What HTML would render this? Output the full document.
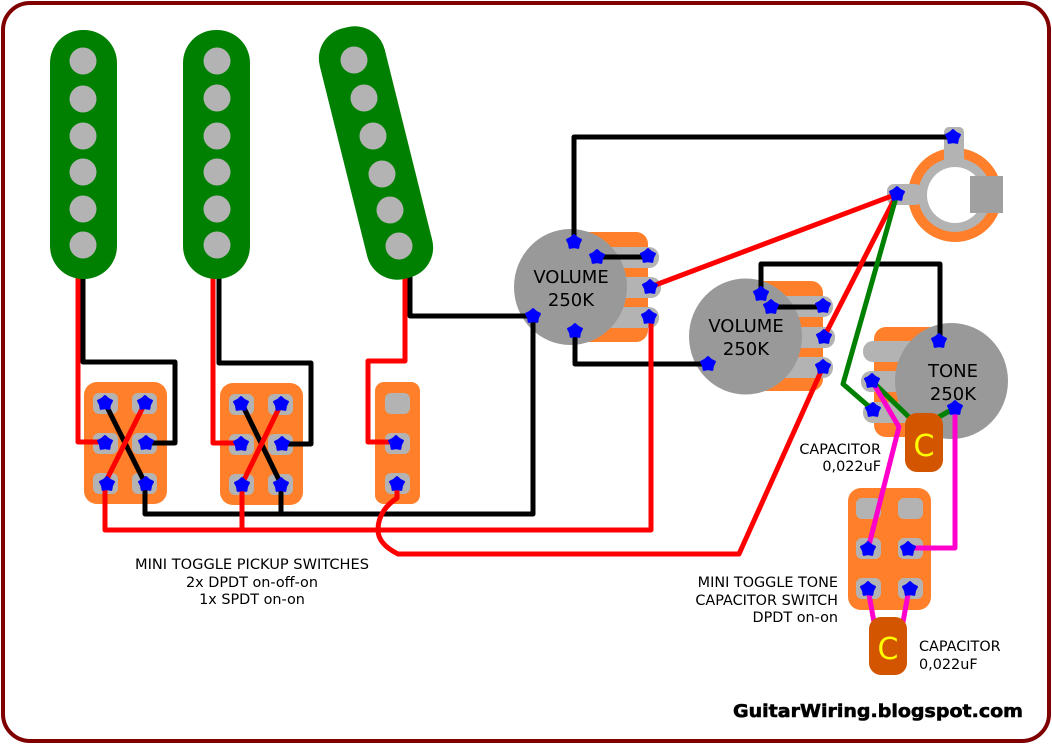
<!DOCTYPE html>
<html><head><meta charset="utf-8"><style>
html,body{margin:0;padding:0;background:#fff}
svg{display:block}
text{font-family:"DejaVu Sans",sans-serif;fill:#000}
.w{fill:none;stroke-width:5;stroke-linejoin:round;stroke-linecap:round}
.r{stroke:#f00}.k{stroke:#000}.g{stroke:#008000}.p{stroke:#f0c}
.or{fill:#ff7f2a}.pad{fill:#b3b3b3}.pot{fill:#999}.cap{fill:#d45500}
.s{font-size:14.4px}
.b{font-size:18px}
.c{font-size:30px;fill:#ff0}
</style></head><body>
<svg width="1052" height="744" viewBox="0 0 1052 744" xmlns="http://www.w3.org/2000/svg">
<defs>
<path id="st" d="M0,-7 L3.1,-4.2 L7,-2.2 L5,1.6 L4.3,5.9 L0,5.2 L-4.3,5.9 L-5,1.6 L-7,-2.2 L-3.1,-4.2Z" fill="#00f" stroke="#00f" stroke-width="2" stroke-linejoin="round"/>
</defs>
<rect x="3" y="3" width="1046" height="738" rx="27" fill="#fff" stroke="#800000" stroke-width="4"/>

<!-- switches -->
<rect class="or" x="84" y="382" width="83" height="122" rx="13"/>
<rect class="or" x="220" y="383" width="83" height="122" rx="13"/>
<rect class="or" x="375" y="382" width="45" height="122" rx="9"/>
<rect class="or" x="848" y="488" width="83" height="122" rx="13"/>
<g class="pad">
<rect x="93" y="393" width="25" height="21" rx="6"/><rect x="132" y="393" width="25" height="21" rx="6"/>
<rect x="93" y="433" width="25" height="21" rx="6"/><rect x="132" y="433" width="25" height="21" rx="6"/>
<rect x="93" y="473" width="25" height="21" rx="6"/><rect x="132" y="473" width="25" height="21" rx="6"/>
<rect x="229" y="394" width="25" height="21" rx="6"/><rect x="268" y="394" width="25" height="21" rx="6"/>
<rect x="229" y="434" width="25" height="21" rx="6"/><rect x="268" y="434" width="25" height="21" rx="6"/>
<rect x="229" y="474" width="25" height="21" rx="6"/><rect x="268" y="474" width="25" height="21" rx="6"/>
<rect x="385" y="393" width="25" height="21" rx="6"/><rect x="385" y="433" width="25" height="21" rx="6"/><rect x="385" y="473" width="25" height="21" rx="6"/>
<rect x="856" y="498" width="25" height="21" rx="6"/><rect x="898" y="498" width="25" height="21" rx="6"/>
<rect x="856" y="538" width="25" height="21" rx="6"/><rect x="898" y="538" width="25" height="21" rx="6"/>
<rect x="856" y="578" width="25" height="21" rx="6"/><rect x="898" y="578" width="25" height="21" rx="6"/>
</g>

<!-- jack -->
<circle class="or" cx="955" cy="195" r="47"/>
<circle cx="955" cy="195" r="37" fill="#b3b3b3"/>
<rect class="pad" x="944" y="127" width="20" height="36" rx="5"/>
<rect class="pad" x="887" y="184" width="35" height="21" rx="7"/>
<circle cx="955" cy="195" r="28" fill="#fff"/>
<rect x="970" y="176" width="33" height="37" fill="#a0a0a0"/>

<!-- volume 1 body -->
<rect class="or" x="560" y="232" width="88" height="110" rx="12"/>
<rect class="pad" x="600" y="247" width="59" height="21" rx="10"/>
<rect class="pad" x="600" y="277" width="61" height="21" rx="10"/>
<rect class="pad" x="600" y="307" width="59" height="21" rx="10"/>
<ellipse class="pot" cx="570.5" cy="287" rx="56.5" ry="58"/>

<!-- volume 2 body -->
<rect class="or" x="735" y="281" width="88" height="110" rx="12"/>
<rect class="pad" x="775" y="296" width="58" height="21" rx="10"/>
<rect class="pad" x="775" y="327" width="60" height="21" rx="10"/>
<rect class="pad" x="775" y="357" width="58" height="21" rx="10"/>
<ellipse class="pot" cx="745.5" cy="336.5" rx="56.5" ry="58"/>

<!-- tone body -->
<rect class="or" x="874" y="327" width="80" height="110" rx="12"/>
<rect class="pad" x="863" y="341" width="60" height="21" rx="10"/>
<rect class="pad" x="861" y="371" width="60" height="21" rx="10"/>
<rect class="pad" x="863" y="402" width="60" height="21" rx="10"/>
<ellipse class="pot" cx="951.5" cy="381" rx="56.5" ry="58"/>

<!-- black wires -->
<g class="w k">
<path d="M83,270V362H175V443H146"/>
<path d="M219,270V363H311V444H281"/>
<path d="M410,270V316H533"/>
<path d="M105,403L145,483"/>
<path d="M242,404L281,484"/>
<path d="M145,483V514H533V316"/>
<path d="M281,484V514"/>
<path d="M574,241V137H952"/>
<path d="M597,257H648"/>
<path d="M575,331V364H708"/>
<path d="M761,294V264H940V341"/>
<path d="M771,307H823"/>
</g>
<!-- red wires -->
<g class="w r">
<path d="M78,270V442H105"/>
<path d="M213,270V443H242"/>
<path d="M405,270V361H368V442H395"/>
<path d="M145,403L105,483"/>
<path d="M281,404L242,484"/>
<path d="M105,483V530H651V317"/>
<path d="M242,484V530"/>
<path d="M397,483V498C385,506 378,516 378,530C378,540 386,548 398,554H739L823,367"/>
<path d="M650,287L897,194"/>
<path d="M824,337L897,194"/>
</g>
<!-- green wires -->
<g class="w g">
<path d="M897,194L843,384L873,410"/>
<path d="M872,381L915,423"/>
<path d="M955,408L935,419"/>
</g>
<!-- pink wires -->
<g class="w p">
<path d="M872,381L899,427L868,549"/>
<path d="M955,408V548H909"/>
<path d="M868,589L874,622"/>
<path d="M909,589L903,622"/>
</g>

<!-- pickups -->
<rect x="50" y="30" width="67" height="249" rx="33" fill="#008000"/>
<rect x="183" y="30" width="67" height="249" rx="33" fill="#008000"/>
<rect x="342.5" y="24" width="67" height="258" rx="31" fill="#008000" transform="rotate(-14 376 153)"/>
<g class="pad">
<circle cx="83" cy="61" r="13.5"/><circle cx="83" cy="99" r="13.5"/><circle cx="83" cy="136" r="13.5"/><circle cx="83" cy="172" r="13.5"/><circle cx="83" cy="209" r="13.5"/><circle cx="83" cy="245" r="13.5"/>
<circle cx="217" cy="61" r="13.5"/><circle cx="217" cy="98" r="13.5"/><circle cx="217" cy="136" r="13.5"/><circle cx="217" cy="172" r="13.5"/><circle cx="217" cy="209" r="13.5"/><circle cx="217" cy="245" r="13.5"/>
<circle cx="354" cy="60" r="13.5"/><circle cx="364" cy="98" r="13.5"/><circle cx="373" cy="136" r="13.5"/><circle cx="382" cy="174" r="13.5"/><circle cx="390" cy="210" r="13.5"/><circle cx="399" cy="246" r="13.5"/>
</g>

<!-- caps -->
<rect class="cap" x="905" y="413" width="38" height="59" rx="12"/>
<rect class="cap" x="869" y="617" width="38" height="58" rx="12"/>
<text class="c" x="924" y="456" text-anchor="middle">C</text>
<text class="c" x="888" y="659" text-anchor="middle">C</text>

<!-- stars -->
<use href="#st" x="105" y="403"/><use href="#st" x="145" y="403"/>
<use href="#st" x="105" y="443"/><use href="#st" x="146" y="443"/>
<use href="#st" x="107" y="484"/><use href="#st" x="146" y="484"/>
<use href="#st" x="241" y="404"/><use href="#st" x="281" y="404"/>
<use href="#st" x="241" y="444"/><use href="#st" x="282" y="444"/>
<use href="#st" x="242" y="485"/><use href="#st" x="281" y="485"/>
<use href="#st" x="396" y="443"/><use href="#st" x="397" y="484"/>
<use href="#st" x="868" y="549"/><use href="#st" x="908" y="549"/>
<use href="#st" x="868" y="589"/><use href="#st" x="910" y="589"/>
<use href="#st" x="574" y="242"/><use href="#st" x="597" y="257"/>
<use href="#st" x="533" y="316"/><use href="#st" x="575" y="331"/>
<use href="#st" x="648" y="256"/><use href="#st" x="650" y="287"/><use href="#st" x="649" y="317"/>
<use href="#st" x="761" y="294"/><use href="#st" x="771" y="307"/>
<use href="#st" x="708" y="364"/>
<use href="#st" x="823" y="306"/><use href="#st" x="824" y="337"/><use href="#st" x="823" y="367"/>
<use href="#st" x="953" y="137"/><use href="#st" x="897" y="194"/>
<use href="#st" x="872" y="381"/><use href="#st" x="873" y="410"/>
<use href="#st" x="939" y="341"/><use href="#st" x="955" y="408"/>

<!-- labels -->
<text class="b" x="571" y="283" text-anchor="middle">VOLUME</text>
<text class="b" x="571" y="306" text-anchor="middle">250K</text>
<text class="b" x="746" y="332" text-anchor="middle">VOLUME</text>
<text class="b" x="746" y="355" text-anchor="middle">250K</text>
<text class="b" x="953" y="377" text-anchor="middle">TONE</text>
<text class="b" x="953" y="400" text-anchor="middle">250K</text>

<text class="s" x="252" y="569" text-anchor="middle" textLength="234" lengthAdjust="spacingAndGlyphs">MINI TOGGLE PICKUP SWITCHES</text>
<text class="s" x="252" y="587" text-anchor="middle">2x DPDT on-off-on</text>
<text class="s" x="252" y="604" text-anchor="middle">1x SPDT on-on</text>
<text class="s" x="881" y="454" text-anchor="end">CAPACITOR</text>
<text class="s" x="881" y="471" text-anchor="end">0,022uF</text>
<text class="s" x="838" y="587" text-anchor="end">MINI TOGGLE TONE</text>
<text class="s" x="838" y="605" text-anchor="end">CAPACITOR SWITCH</text>
<text class="s" x="838" y="622" text-anchor="end">DPDT on-on</text>
<text class="s" x="919" y="651">CAPACITOR</text>
<text class="s" x="919" y="669">0,022uF</text>
<text x="733" y="717" font-size="18" font-weight="700" textLength="290" lengthAdjust="spacingAndGlyphs" style="stroke:#000;stroke-width:.6">GuitarWiring.blogspot.com</text>
</svg>
</body></html>
